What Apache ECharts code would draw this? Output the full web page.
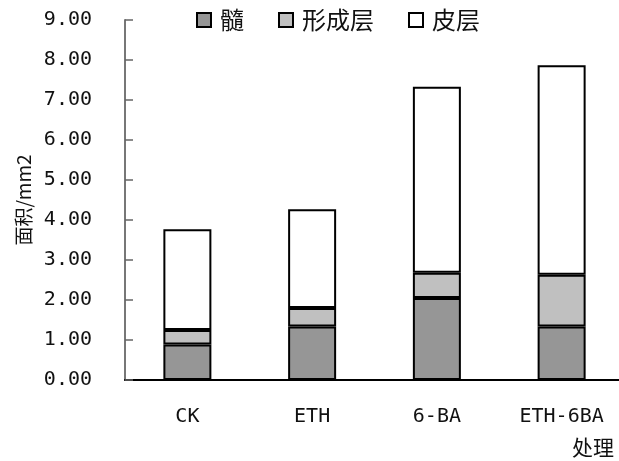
<!DOCTYPE html>
<html lang="zh-CN">
<head>
    <meta charset="UTF-8">
    <title>面积 处理</title>
    <script src="https://cdn.jsdelivr.net/npm/echarts@6/dist/echarts.min.js"></script>
    <style>
        html, body { margin: 0; padding: 0; background: #fff; }
        #chart { width: 619px; height: 461px; }
    </style>
</head>
<body>
    <div id="chart"></div>
    <script>
        // 数据
        const categories = ['CK', 'ETH', '6-BA', 'ETH-6BA'];
        const pith = [0.89, 1.34, 2.05, 1.34];        // 髓
        const cambium = [0.36, 0.46, 0.63, 1.29];     // 形成层
        const cortex = [2.52, 2.47, 4.65, 5.24];      // 皮层

        const monoFont = '"DejaVu Sans Mono", "Liberation Mono", monospace';
        const cjkFont = '"Noto Sans CJK SC", sans-serif';

        const chart = echarts.init(document.getElementById('chart'));

        function barSeries(name, data, color) {
            return {
                name: name,
                type: 'bar',
                stack: 'area',
                data: data,
                barWidth: 48,
                itemStyle: { color: color, borderColor: '#000', borderWidth: 2 },
                emphasis: { disabled: true }
            };
        }

        chart.setOption({
            animation: false,
            title: {
                text: '处理',
                right: 0,
                top: 432,
                textStyle: { fontFamily: cjkFont, fontSize: 21, fontWeight: 'normal', color: '#111' }
            },
            legend: {
                left: 196,
                top: 8,
                padding: 0,
                icon: 'rect',
                itemWidth: 14,
                itemHeight: 14,
                itemGap: 34,
                textStyle: { fontFamily: cjkFont, fontSize: 24, color: '#111', padding: [0, 0, 0, 4] },
                data: ['髓', '形成层', '皮层']
            },
            grid: { left: 125, top: 20, right: -5, bottom: 81, containLabel: false, outerBoundsMode: 'none' },
            xAxis: {
                type: 'category',
                data: categories,
                axisLine: { lineStyle: { color: '#000', width: 2 } },
                axisTick: { inside: true, length: 7, lineStyle: { color: '#666', width: 1.5 } },
                axisLabel: { fontFamily: monoFont, fontSize: 20, color: '#111', margin: 27 }
            },
            yAxis: {
                type: 'value',
                min: 0,
                max: 9,
                interval: 1,
                name: '面积/mm2',
                nameLocation: 'middle',
                nameGap: 86,
                nameTextStyle: { fontFamily: cjkFont, fontSize: 19, color: '#111' },
                axisLine: { show: true, lineStyle: { color: '#777', width: 2 } },
                axisTick: { show: true, inside: true, length: 8, lineStyle: { color: '#666', width: 1.5 } },
                splitLine: { show: false },
                axisLabel: {
                    fontFamily: monoFont,
                    fontSize: 20,
                    color: '#111',
                    margin: 33,
                    formatter: v => v.toFixed(2)
                }
            },
            series: [
                barSeries('髓', pith, '#969696'),
                barSeries('形成层', cambium, '#c0c0c0'),
                barSeries('皮层', cortex, '#ffffff')
            ]
        });
    </script>
</body>
</html>
